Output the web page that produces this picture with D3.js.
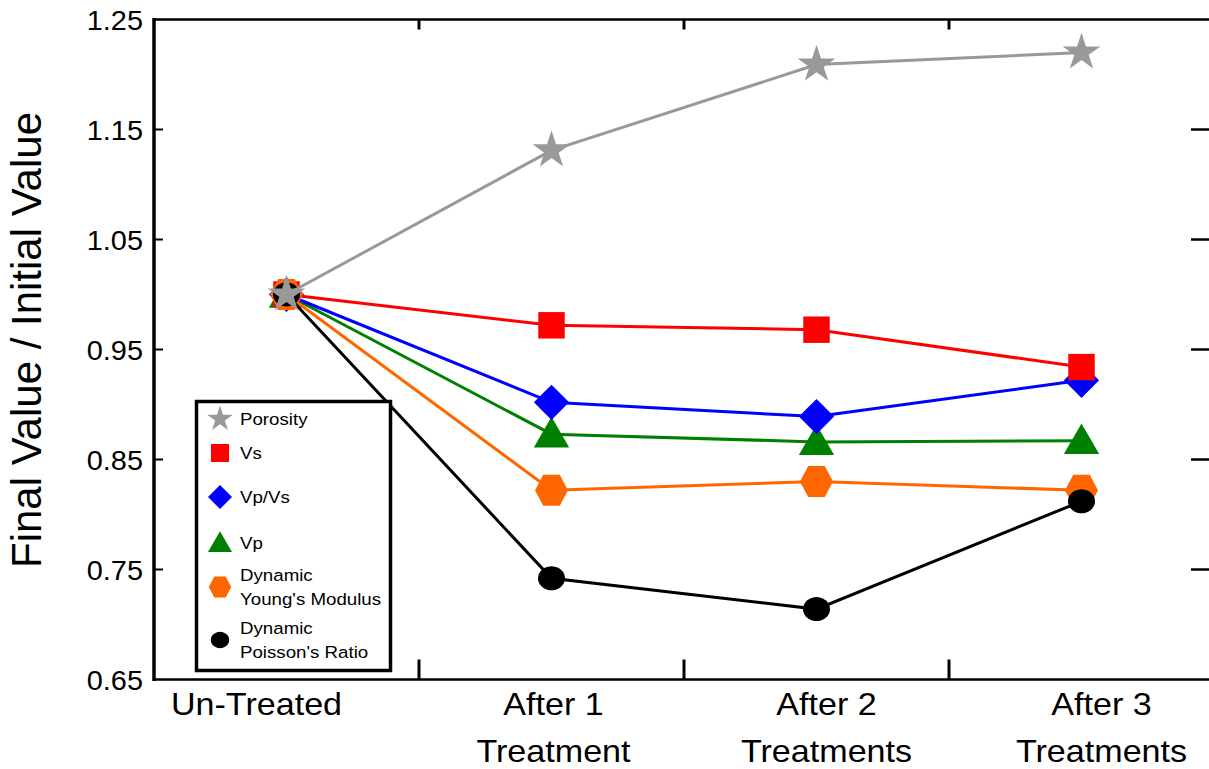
<!DOCTYPE html>
<html>
<head>
<meta charset="utf-8">
<script src="https://cdn.jsdelivr.net/npm/d3@7"></script>
<style>
  html, body { margin: 0; padding: 0; background: #fff; }
  svg { display: block; }
  text { font-family: "Liberation Sans", Arial, Helvetica, sans-serif; fill: #000; }
</style>
</head>
<body>
<svg id="chart" width="1209" height="769"></svg>
<script>
// ---------- data ----------
const categories = ["Un-Treated", "After 1 Treatment", "After 2 Treatments", "After 3 Treatments"];
const categoryLines = [["Un-Treated"], ["After 1", "Treatment"], ["After 2", "Treatments"], ["After 3", "Treatments"]];
const yTicks = [0.65, 0.75, 0.85, 0.95, 1.05, 1.15, 1.25];
const yTickLabels = ["0.65", "0.75", "0.85", "0.95", "1.05", "1.15", "1.25"];

const porosity = [1.0, 1.131, 1.209, 1.220];
const vs       = [1.0, 0.972, 0.968, 0.934];
const vpvs     = [1.0, 0.902, 0.889, 0.922];
const vp       = [1.0, 0.873, 0.866, 0.867];
const youngs   = [1.0, 0.822, 0.830, 0.822];
const poisson  = [1.0, 0.742, 0.714, 0.812];

const seriesNames = ["Porosity", "Vs", "Vp/Vs", "Vp", "Dynamic Young's Modulus", "Dynamic Poisson's Ratio"];

// ---------- layout / style ----------
const W = 1209, H = 769;
const mLeft = 154, mRight = 1214, mTop = 19.5, mBottom = 679.5;
const svg = d3.select("#chart");

const x = d3.scaleBand().domain(categories).range([mLeft, mRight]).paddingInner(0).paddingOuter(0);
const xc = c => x(c) + x.bandwidth() / 2;
const y = d3.scaleLinear().domain([0.65, 1.25]).range([mBottom, mTop]);

function stext(g, tx, ty, str, size, anchor, sx, rot) {
  return g.append("text")
    .attr("transform", `translate(${tx},${ty})` + (rot ? ` rotate(${rot}) scale(1,${sx})` : ` scale(${sx},1)`))
    .attr("font-size", size)
    .attr("text-anchor", anchor || "start")
    .text(str);
}

function hexPath(rx, ry) {
  const p = d3.path();
  p.moveTo(-rx, 0);
  p.lineTo(-rx / 2, -ry);
  p.lineTo(rx / 2, -ry);
  p.lineTo(rx, 0);
  p.lineTo(rx / 2, ry);
  p.lineTo(-rx / 2, ry);
  p.closePath();
  return p.toString();
}
function ellipsePath(rx, ry) {
  const p = d3.path();
  p.moveTo(rx, 0);
  const n = 40;
  for (let i = 1; i <= n; i++) {
    const a = i / n * 2 * Math.PI;
    p.lineTo(rx * Math.cos(a), ry * Math.sin(a));
  }
  p.closePath();
  return p.toString();
}

const styles = {
  "Porosity": { color: "#999999", path: s => d3.symbol(d3.symbolStar, 440 * s * s)(), rot: 0 },
  "Vs": { color: "#ff0000", path: s => d3.symbol(d3.symbolSquare, 700 * s * s)(), rot: 0 },
  "Vp/Vs": { color: "#0000ff", path: s => d3.symbol(d3.symbolSquare, 620 * s * s)(), rot: 45 },
  "Vp": { color: "#008000", path: s => d3.symbol(d3.symbolTriangle, 540 * s * s)(), rot: 0, dy: 3 },
  "Dynamic Young's Modulus": { color: "#ff6600", path: s => hexPath(16.5 * s, 15.5 * s), rot: 0 },
  "Dynamic Poisson's Ratio": { color: "#000000", path: s => ellipsePath(13.5 * s, 12 * s), rot: 0 }
};
const seriesData = {
  "Porosity": porosity, "Vs": vs, "Vp/Vs": vpvs, "Vp": vp,
  "Dynamic Young's Modulus": youngs, "Dynamic Poisson's Ratio": poisson
};

// ---------- series ----------
const drawOrder = ["Vp", "Vp/Vs", "Vs", "Dynamic Young's Modulus", "Dynamic Poisson's Ratio", "Porosity"];
const line = d3.line().x((d, i) => xc(categories[i])).y(d => y(d));
const plot = svg.append("g");
drawOrder.forEach(name => {
  const st = styles[name];
  const vals = seriesData[name];
  const g = plot.append("g");
  g.append("path").attr("d", line(vals)).attr("fill", "none")
    .attr("stroke", st.color).attr("stroke-width", 3);
  g.selectAll("path.m").data(vals).enter().append("path").attr("class", "m")
    .attr("d", st.path(1))
    .attr("transform", (d, i) => `translate(${xc(categories[i])},${y(d) + (st.dy || 0)}) rotate(${st.rot})`)
    .attr("fill", st.color);
});

// ---------- axes / frame ----------
const frame = svg.append("g").attr("stroke", "#000");
frame.append("line").attr("x1", mLeft).attr("x2", mLeft).attr("y1", mTop - 1.5).attr("y2", mBottom + 1.5).attr("stroke-width", 3.5);
frame.append("line").attr("x1", mLeft).attr("x2", W).attr("y1", mBottom).attr("y2", mBottom).attr("stroke-width", 2.5);
frame.append("line").attr("x1", mLeft).attr("x2", W).attr("y1", mTop).attr("y2", mTop).attr("stroke-width", 2.5);

const innerTicks = yTicks.slice(1, -1);
frame.selectAll("line.lt").data(innerTicks).enter().append("line")
  .attr("x1", mLeft).attr("x2", mLeft + 9).attr("y1", d => y(d)).attr("y2", d => y(d)).attr("stroke-width", 2);
frame.selectAll("line.rt").data(innerTicks).enter().append("line")
  .attr("x1", mRight - 23).attr("x2", mRight).attr("y1", d => y(d)).attr("y2", d => y(d)).attr("stroke-width", 2.5);
const bounds = categories.slice(1).map(c => x(c));
frame.selectAll("line.bt").data(bounds).enter().append("line")
  .attr("x1", d => d).attr("x2", d => d).attr("y1", mBottom).attr("y2", mBottom - 20).attr("stroke-width", 3);
frame.selectAll("line.tt").data(bounds).enter().append("line")
  .attr("x1", d => d).attr("x2", d => d).attr("y1", mTop).attr("y2", mTop + 10).attr("stroke-width", 3);

// y tick labels
const labels = svg.append("g");
yTicks.forEach((v, i) => stext(labels, 143, y(v) + 10, yTickLabels[i], 27, "end", 1.07));

// x labels
const xLabelOffsets = [-30, 2, 10, 20];
categories.forEach((c, i) => {
  categoryLines[i].forEach((ln, j) => {
    stext(labels, xc(c) + xLabelOffsets[i], 715 + j * 47, ln, 31, "middle", 1.1);
  });
});

// y title
stext(labels, 41, 340, "Final Value / Initial Value", 42, "middle", 1.0, -90);

// ---------- legend ----------
const lg = svg.append("g");
lg.append("rect").attr("x", 196.5).attr("y", 401.5).attr("width", 194).attr("height", 269)
  .attr("fill", "#fff").attr("stroke", "#000").attr("stroke-width", 3.5);
const legendY = [419, 453, 497, 543, 587, 640];
const legendLines = [["Porosity"], ["Vs"], ["Vp/Vs"], ["Vp"], ["Dynamic", "Young's Modulus"], ["Dynamic", "Poisson's Ratio"]];
seriesNames.forEach((name, i) => {
  const st = styles[name];
  lg.append("path").attr("d", st.path(0.68))
    .attr("transform", `translate(220,${legendY[i] + (st.dy ? 2 : 0)}) rotate(${st.rot})`)
    .attr("fill", st.color);
  const ls = legendLines[i];
  ls.forEach((t, j) => {
    const ty = legendY[i] + 6 + (ls.length === 2 ? (j === 0 ? -12 : 12) : 0);
    stext(lg, 240, ty, t, 17, "start", 1.1);
  });
});
</script>
</body>
</html>
